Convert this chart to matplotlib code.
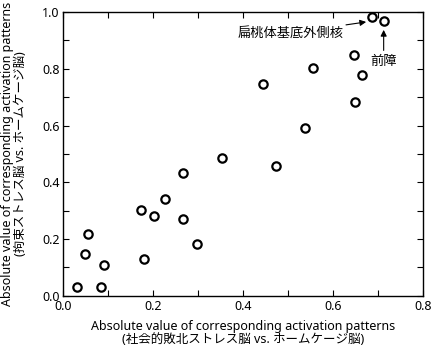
import matplotlib
matplotlib.use("Agg")
import matplotlib.pyplot as plt
import numpy as np

plt.rcParams['font.family'] = ['Noto Sans', 'Noto Sans CJK JP', 'DejaVu Sans']

#-----------Data------------
x_vals = [0.030, 0.048, 0.055, 0.084, 0.090, 0.172, 0.179, 0.201, 0.227, 0.267,
          0.267, 0.298, 0.353, 0.444, 0.474, 0.539, 0.556, 0.646, 0.650, 0.664,
          0.687, 0.713]
y_vals = [0.030, 0.149, 0.219, 0.030, 0.107, 0.302, 0.128, 0.280, 0.340, 0.433,
          0.270, 0.183, 0.484, 0.745, 0.458, 0.592, 0.804, 0.848, 0.682, 0.777,
          0.983, 0.968]

x_ticks = [0.0, 0.2, 0.4, 0.6, 0.8]
y_ticks = [0.0, 0.2, 0.4, 0.6, 0.8, 1.0]

xlabel = "Absolute value of corresponding activation patterns\n(社会的敗北ストレス脳 vs. ホームケージ脳)"
ylabel = "Absolute value of corresponding activation patterns\n(拘束ストレス脳 vs. ホームケージ脳)"

label_bla = "扁桃体基底外側核"
label_cla = "前障"

#-----------Plot------------
fig = plt.figure(figsize=(4.32, 3.48), dpi=100)
ax = fig.add_axes([0.1466, 0.150, 0.832, 0.8155])

ax.plot(x_vals, y_vals, 'o', markerfacecolor='white', markeredgecolor='black',
        markersize=6, markeredgewidth=1.6, linestyle='none')

ax.set_xlim(0, 0.8)
ax.set_ylim(0, 1.0)
ax.set_xticks(x_ticks)
ax.set_yticks(y_ticks)
ax.set_xticks(np.arange(0.1, 0.8, 0.2), minor=True)
ax.set_yticks(np.arange(0.1, 1.0, 0.2), minor=True)
ax.set_xticklabels([f"{v:.1f}" for v in x_ticks])
ax.set_yticklabels([f"{v:.1f}" for v in y_ticks])
ax.tick_params(which='both', direction='in', top=True, right=True, length=4,
               width=0.8, labelsize=9)
ax.tick_params(axis='x', pad=3)
ax.tick_params(axis='y', pad=2.5)
for s in ax.spines.values():
    s.set_linewidth(1.0)

ax.set_xlabel(xlabel, fontsize=9, labelpad=5, linespacing=1.0)
ax.set_ylabel(ylabel, fontsize=9, linespacing=0.95)
ax.yaxis.set_label_coords(-0.102, 0.5)

ax.annotate(label_bla, xy=(0.674, 0.965), xytext=(0.623, 0.926),
            ha='right', va='center', fontsize=9.5,
            arrowprops=dict(arrowstyle='-|>', color='black', lw=0.8,
                            mutation_scale=9, shrinkA=0, shrinkB=0))
ax.annotate(label_cla, xy=(0.713, 0.937), xytext=(0.713, 0.827),
            ha='center', va='center', fontsize=9.5,
            arrowprops=dict(arrowstyle='-|>', color='black', lw=0.8,
                            mutation_scale=9, shrinkA=1, shrinkB=0))

fig.savefig("out.png", dpi=100)
